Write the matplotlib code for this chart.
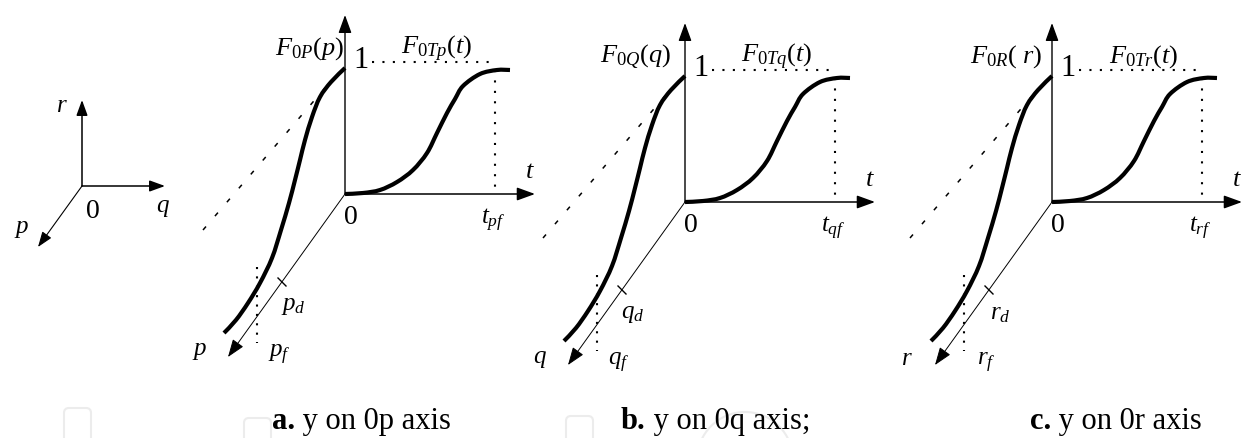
import matplotlib.pyplot as plt
from matplotlib.patches import FancyBboxPatch, Circle, PathPatch
from matplotlib.path import Path

plt.rcParams['font.family'] = 'Liberation Serif'
plt.rcParams['mathtext.fontset'] = 'custom'
plt.rcParams['mathtext.rm'] = 'Liberation Serif'
plt.rcParams['mathtext.it'] = 'Liberation Serif:italic'
plt.rcParams['mathtext.bf'] = 'Liberation Serif:bold'

# S-curve of F(t): t offset and F height (drawing units, origin at 0)
t_curve_t = [0, 18, 35, 52, 68, 82, 92, 102, 110, 118, 135, 152, 165]
t_curve_F = [0, 1, 4, 12, 24, 41, 61, 81, 95, 108, 120, 124, 124]

# S-curve of F over the oblique space axis (p, q or r)
s_curve_x = [0, -14, -25, -33, -40, -45, -50, -56, -64, -73, -85, -97, -109, -121]
s_curve_y = [126, 112, 97, 77, 54, 34, 14, -9, -36, -64, -89, -109, -126, -139]

axis_names = ['p', 'q', 'r']
space_labels = [r'$F_{0P}(p)$', r'$F_{0Q}(q)$', r'$F_{0R}(\ r)$']
time_labels = [r'$F_{0Tp}(t)$', r'$F_{0Tq}(t)$', r'$F_{0Tr}(t)$']
tf_labels = [r'$t_{pf}$', r'$t_{qf}$', r'$t_{rf}$']
d_labels = [r'$p_d$', r'$q_d$', r'$r_d$']
f_labels = [r'$p_f$', r'$q_f$', r'$r_f$']
caption_bold = ['a.', 'b.', 'c.']
caption_text = [' y on 0p axis', ' y on 0q axis;', ' y on 0r axis']

origins = [(345, 194), (685, 202), (1052, 202)]
space_label_x = [-1, -14, -10]
caption_x = [272, 621, 1030]

fig = plt.figure(figsize=(12.43, 4.38), dpi=100)
ax = fig.add_axes([0, 0, 1, 1])
ax.set_xlim(0, 1243)
ax.set_ylim(438, 0)
ax.axis('off')


def pt(o, x, y):
    return (o[0] + x, o[1] - y)


def arrow(start, end, lw=1.1, scale=20):
    ax.annotate('', xy=end, xytext=start, annotation_clip=False,
                arrowprops=dict(arrowstyle='-|>,head_length=0.55,head_width=0.2',
                                lw=lw, color='k', shrinkA=0, shrinkB=0,
                                mutation_scale=scale))


def line(o, xs, ys, **kw):
    px = [o[0] + x for x in xs]
    py = [o[1] - y for y in ys]
    ax.plot(px, py, color='k', **kw)


def smooth(o, xs, ys, lw):
    # cubic bezier pieces passing through every listed point
    p = [pt(o, x, y) for x, y in zip(xs, ys)]
    verts = [p[0]]
    codes = [Path.MOVETO]
    n = len(p)
    for k in range(n - 1):
        p0 = p[max(k - 1, 0)]
        p1, p2 = p[k], p[k + 1]
        p3 = p[min(k + 2, n - 1)]
        c1 = (p1[0] + (p2[0] - p0[0]) / 6, p1[1] + (p2[1] - p0[1]) / 6)
        c2 = (p2[0] - (p3[0] - p1[0]) / 6, p2[1] - (p3[1] - p1[1]) / 6)
        verts += [c1, c2, p2]
        codes += [Path.CURVE4] * 3
    ax.add_patch(PathPatch(Path(verts, codes), fc='none', ec='k', lw=lw,
                           capstyle='butt', joinstyle='round'))


# faint marks along the bottom edge
for x0, y0, w in [(64, 408, 27), (244, 418, 27), (566, 416, 27)]:
    ax.add_patch(FancyBboxPatch((x0, y0), w, 40, boxstyle='round,pad=0,rounding_size=5',
                                fc='none', ec='#ececec', lw=1.5))
ax.add_patch(Circle((745, 460), 48, fc='none', ec='#ececec', lw=1.5))

# small p-q-r reference frame
o0 = (82, 186)
arrow(o0, (82, 100), lw=1.1, scale=17)
arrow(o0, (165, 186), lw=1.1, scale=17)
arrow(o0, (38, 247), lw=0.8, scale=17)
ax.text(62, 106, '$r$', fontsize=18, ha='center', va='center')
ax.text(163, 208, '$q$', fontsize=18, ha='center', va='center')
ax.text(22, 229, '$p$', fontsize=18, ha='center', va='center')
ax.text(93, 211, '0', fontsize=20, ha='center', va='center')

for i, o in enumerate(origins):
    # axes
    arrow(o, pt(o, 0, 179), lw=1.0)
    arrow(o, pt(o, 190, 0), lw=1.1)
    arrow(o, pt(o, -117, -163), lw=0.7)

    # guide lines
    line(o, [27, 150], [132, 132], lw=1.5, ls=(0, (1, 4)))
    line(o, [150, 150], [124, 0], lw=1.5, ls=(0, (1, 4)))
    line(o, [-142, -20], [-36, 106], lw=1.1, ls=(0, (3, 9)))
    line(o, [-88, -88], [-73, -149], lw=1.5, ls=(0, (1, 3.5)))
    line(o, [-67, -59], [-84, -92], lw=1.0)

    # distribution curves
    smooth(o, t_curve_t, t_curve_F, lw=3.0)
    smooth(o, s_curve_x, s_curve_y, lw=3.0)

    # labels
    ax.text(*pt(o, space_label_x[i], 145), space_labels[i], fontsize=19, ha='right', va='center')
    ax.text(*pt(o, 92, 145), time_labels[i], fontsize=19, ha='center', va='center')
    ax.text(*pt(o, 16, 133), '1', fontsize=22, ha='center', va='center')
    ax.text(*pt(o, 6, -23), '0', fontsize=20, ha='center', va='center')
    ax.text(*pt(o, 185, 22), '$t$', fontsize=19, ha='center', va='center')
    ax.text(*pt(o, 148, -26), tf_labels[i], fontsize=18, ha='center', va='center')
    ax.text(*pt(o, -52, -112), d_labels[i], fontsize=18, ha='center', va='center')
    ax.text(*pt(o, -145, -157), '$' + axis_names[i] + '$', fontsize=18, ha='center', va='center')
    ax.text(*pt(o, -66, -161), f_labels[i], fontsize=18, ha='center', va='center')

# captions: bold letter followed by regular text
fig.canvas.draw()
renderer = fig.canvas.get_renderer()
for i in range(3):
    tb = ax.text(caption_x[i], 429, caption_bold[i], fontsize=22, weight='bold', va='baseline')
    bb = tb.get_window_extent(renderer=renderer)
    x_next = ax.transData.inverted().transform((bb.x1, bb.y0))[0]
    ax.text(x_next, 429, caption_text[i], fontsize=22, va='baseline')

fig.savefig('out.png', dpi=100)
